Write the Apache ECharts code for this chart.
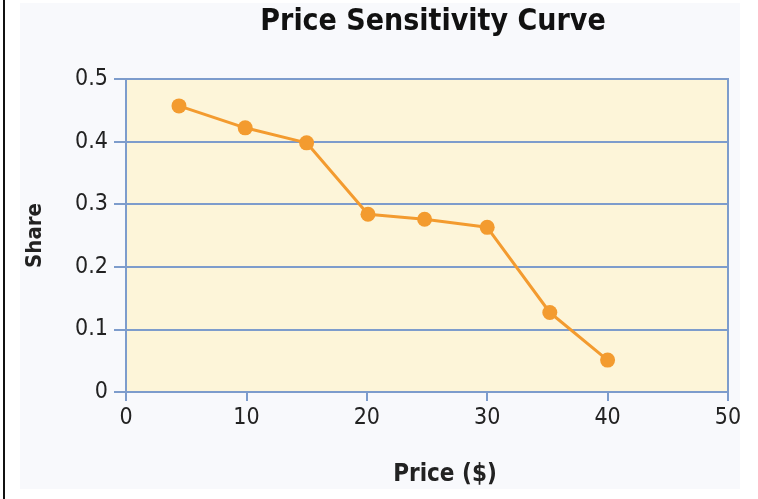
<!DOCTYPE html>
<html>
<head>
<meta charset="utf-8">
<script src="https://cdn.jsdelivr.net/npm/echarts@6/dist/echarts.min.js"></script>
<style>
html,body{margin:0;padding:0;background:#ffffff;}
#chart{width:758px;height:499px;}
</style>
</head>
<body>
<div id="chart"></div>
<script>
var titleText = 'Price Sensitivity Curve';
var xAxisName = 'Price ($)';
var yAxisName = 'Share';
var prices = [4.4, 9.9, 15, 20.1, 24.8, 30, 35.2, 40];
var shares = [0.457, 0.422, 0.398, 0.284, 0.276, 0.263, 0.127, 0.051];

var points = prices.map(function (p, i) { return [p, shares[i]]; });

var chart = echarts.init(document.getElementById('chart'), null, {renderer: 'canvas'});
var fontFam = '"DejaVu Sans Condensed", "DejaVu Sans", Verdana, sans-serif';
chart.setOption({
  animation: false,
  backgroundColor: '#ffffff',
  graphic: [
    {type: 'rect', z: -10, shape: {x: 20, y: 3, width: 720, height: 486}, style: {fill: '#f8f9fc'}},
    {type: 'rect', z: -10, shape: {x: 3, y: 0, width: 2, height: 499}, style: {fill: '#111111'}}
  ],
  title: {
    text: titleText,
    left: 428, top: 2, textAlign: 'center',
    textStyle: {fontFamily: fontFam, fontSize: 30, fontWeight: 'bold', color: '#111111'}
  },
  grid: {left: 126, top: 79, width: 602, height: 313, show: true, backgroundColor: '#fdf5d9', borderWidth: 2, borderColor: '#7d9ccc'},
  xAxis: {
    type: 'value', min: 0, max: 50, interval: 10,
    name: xAxisName, nameLocation: 'middle', nameGap: 71,
    nameTextStyle: {fontFamily: fontFam, fontSize: 24, fontWeight: 'bold', color: '#222222', padding: [0, 0, 0, 36]},
    axisLine: {show: true, lineStyle: {color: '#7d9ccc', width: 2}},
    axisTick: {show: true, length: 9, lineStyle: {color: '#7d9ccc', width: 2}},
    axisLabel: {fontFamily: fontFam, fontSize: 23, color: '#222222', margin: 15},
    splitLine: {show: false}
  },
  yAxis: {
    type: 'value', min: 0, max: 0.5, interval: 0.1,
    name: yAxisName, nameLocation: 'middle', nameGap: 80, nameRotate: 90,
    nameTextStyle: {fontFamily: fontFam, fontSize: 22, fontWeight: 'bold', color: '#222222'},
    axisLine: {show: true, lineStyle: {color: '#7d9ccc', width: 2}},
    axisTick: {show: true, length: 12, lineStyle: {color: '#7d9ccc', width: 2}},
    axisLabel: {fontFamily: fontFam, fontSize: 23, color: '#222222', margin: 18,
      formatter: function (v) { return v === 0 ? '0' : v.toFixed(1); }},
    splitLine: {show: true, lineStyle: {color: '#7d9ccc', width: 2}}
  },
  series: [{
    type: 'line',
    data: points,
    symbol: 'circle', symbolSize: 15,
    itemStyle: {color: '#f39b2f'},
    lineStyle: {color: '#f39b2f', width: 3},
    z: 5
  }]
});
</script>
</body>
</html>
